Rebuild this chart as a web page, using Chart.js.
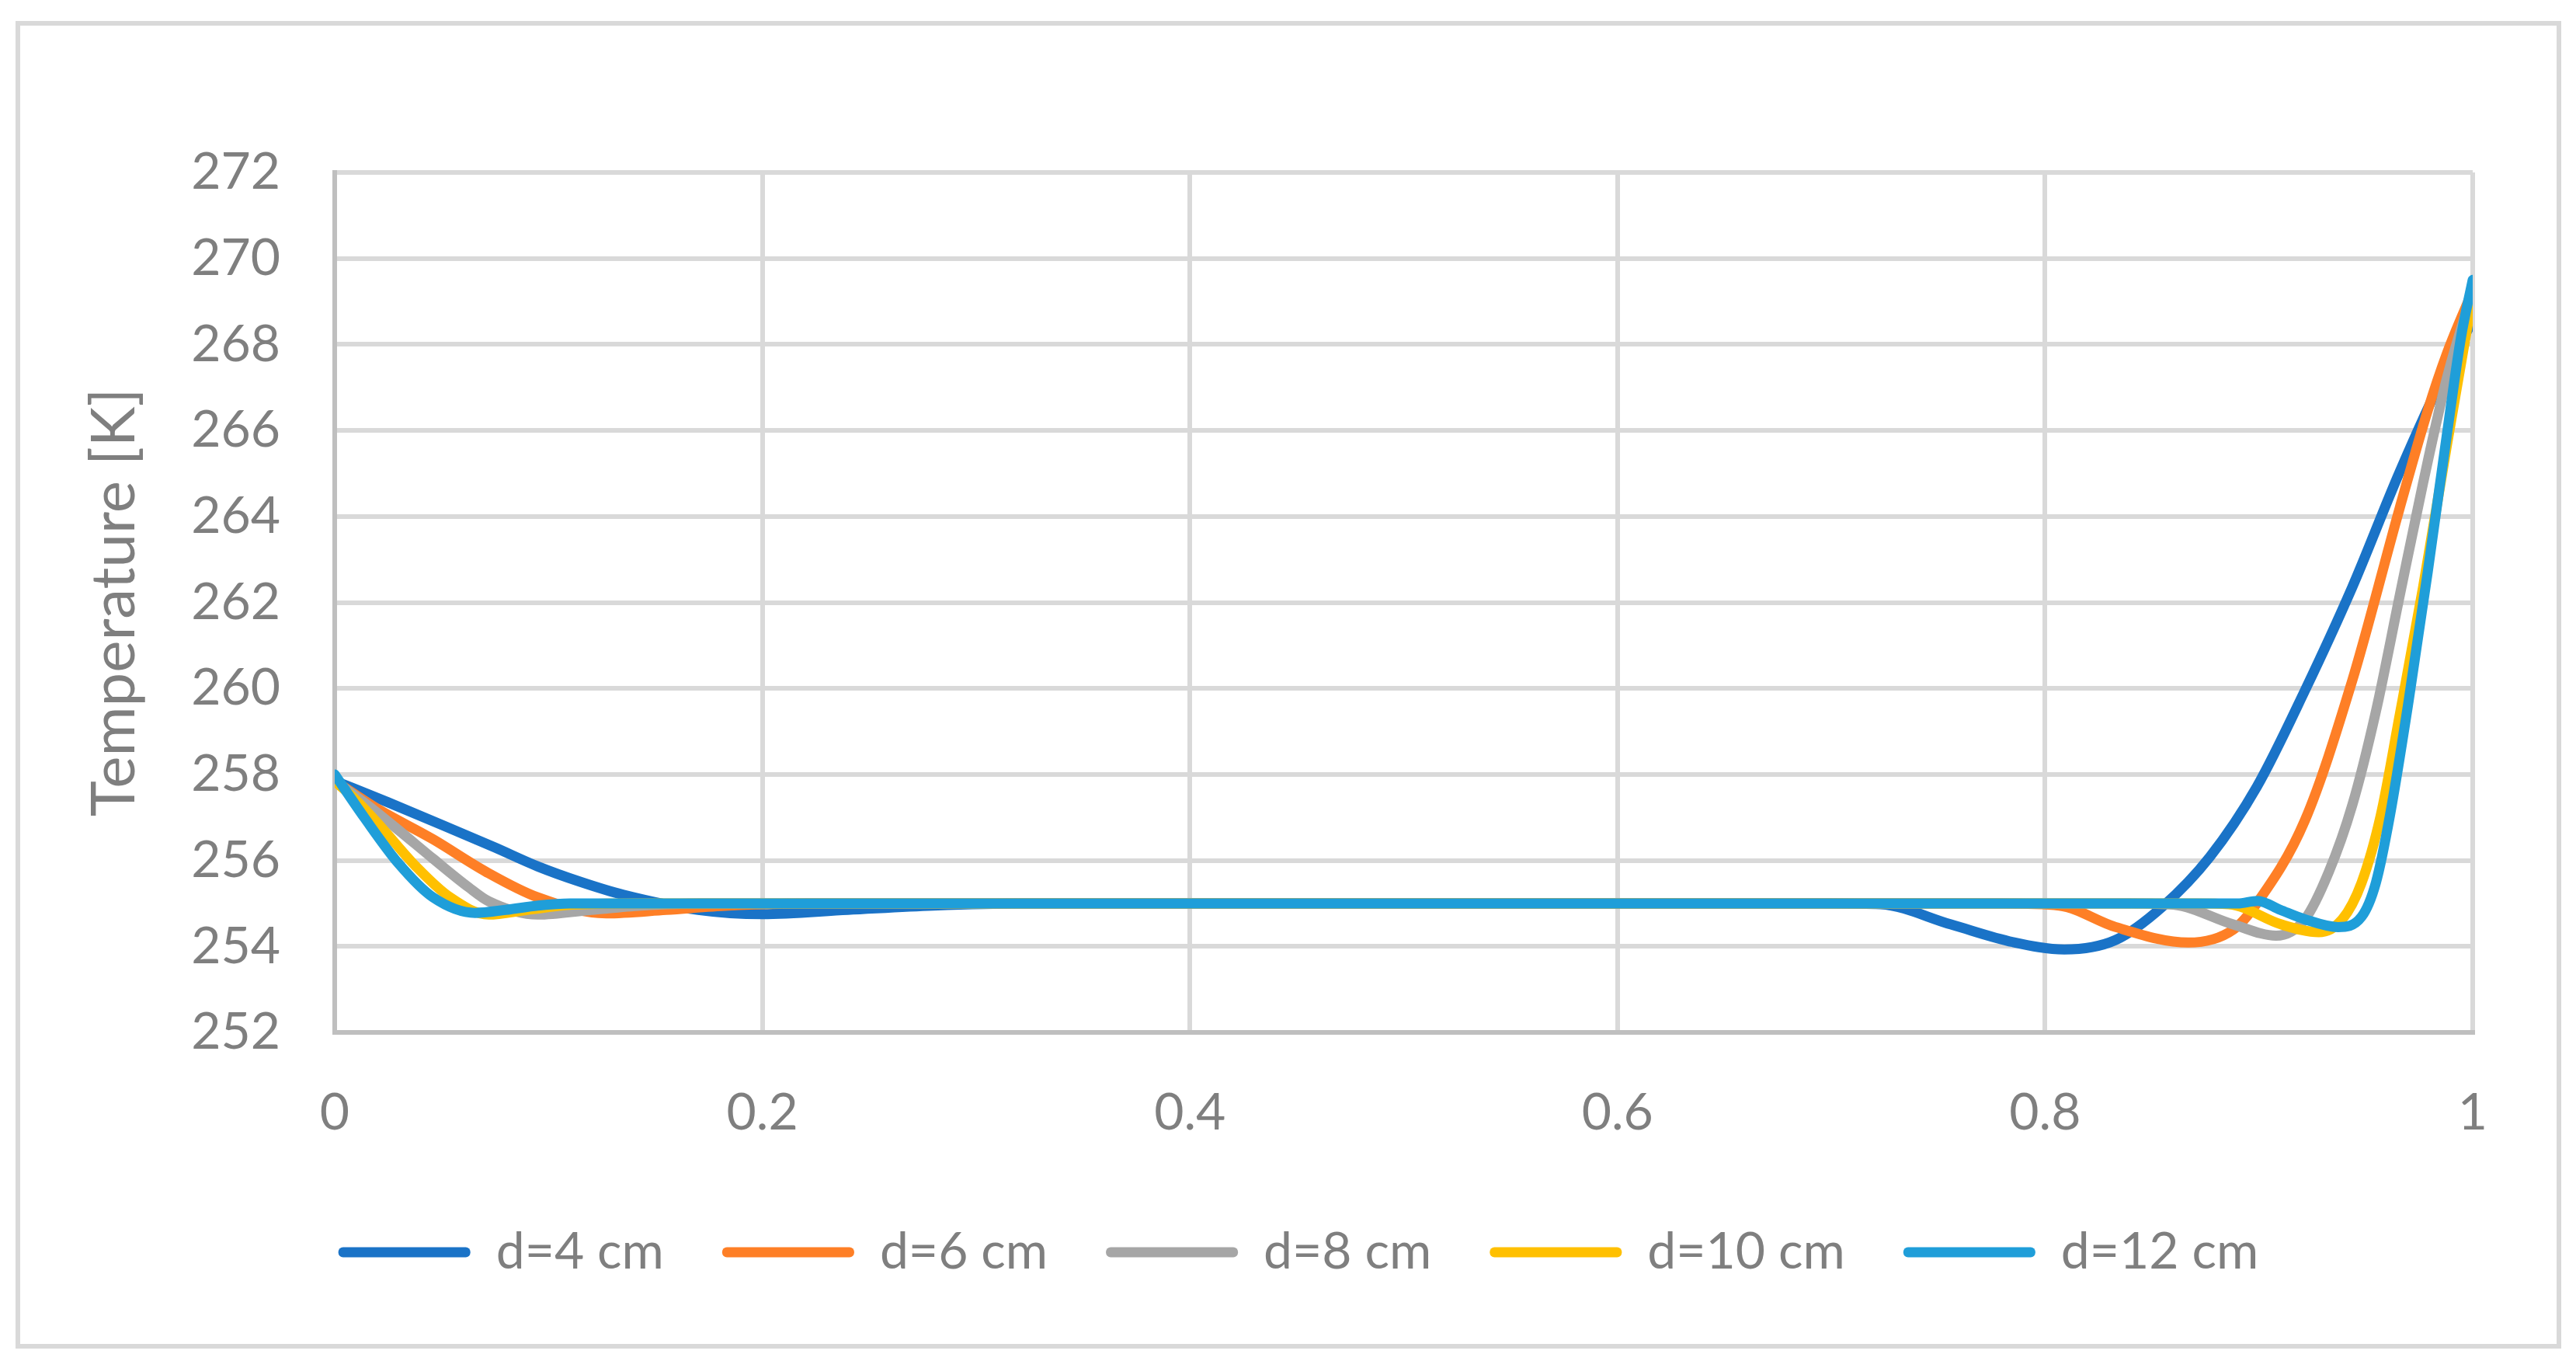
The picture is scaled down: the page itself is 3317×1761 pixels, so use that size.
<!DOCTYPE html>
<html>
<head>
<meta charset="utf-8">
<script src="https://cdn.jsdelivr.net/npm/chart.js@4.4.0/dist/chart.umd.min.js"></script>
<style>
  html, body { margin: 0; padding: 0; background: #fff; }
  #wrap { position: relative; width: 3317px; height: 1761px; }
  #frame { position: absolute; left: 20px; top: 27px; width: 3266px; height: 1697px; border: 6px solid #d9d9d9; }
  #chart { position: absolute; left: 0; top: 0; }
</style>
</head>
<body>
<div id="wrap">
  <div id="frame"></div>
  <canvas id="chart" width="3317" height="1761"></canvas>
</div>
<script>
// --- data ---
const seriesNames = ['d=4 cm', 'd=6 cm', 'd=8 cm', 'd=10 cm', 'd=12 cm'];
const seriesColors = ['#1a73c7', '#fe7f26', '#a6a6a6', '#ffc000', '#1f9ed9'];

const xD4 = [0, 0.025, 0.05, 0.075, 0.095, 0.115, 0.135, 0.17, 0.2, 0.24, 0.28, 0.32, 0.7, 0.723, 0.756, 0.785, 0.809, 0.833, 0.855, 0.877, 0.899, 0.9215, 0.9437, 0.9657, 0.9878, 1.0];
const tD4 = [257.85, 257.35, 256.83, 256.3, 255.86, 255.5, 255.2, 254.85, 254.75, 254.85, 254.95, 255, 255, 254.98, 254.51, 254.1, 253.93, 254.15, 254.93, 256.08, 257.71, 259.95, 262.36, 265.02, 267.43, 268.55];

const xD6 = [0, 0.02, 0.046, 0.0706, 0.095, 0.127, 0.155, 0.184, 0.22, 0.78, 0.8066, 0.833, 0.867, 0.888, 0.899, 0.9215, 0.9437, 0.9657, 0.979, 0.988, 1.0];
const tD6 = [257.85, 257.2, 256.49, 255.74, 255.14, 254.77, 254.85, 254.95, 255, 255, 254.95, 254.45, 254.09, 254.39, 255.0, 256.93, 260.19, 264.17, 266.47, 267.8, 269.25];

const xD8 = [0, 0.015, 0.03, 0.046, 0.0625, 0.072, 0.095, 0.12, 0.1435, 0.17, 0.84, 0.86, 0.888, 0.908, 0.9215, 0.9326, 0.9437, 0.9547, 0.9657, 0.9768, 0.9878, 1.0];
const tD8 = [257.85, 257.3, 256.7, 256.04, 255.38, 255.05, 254.74, 254.85, 254.95, 255, 255, 254.97, 254.51, 254.25, 254.63, 255.72, 257.29, 259.46, 262.12, 264.78, 267.19, 269.25];

const xD10 = [0, 0.01, 0.022, 0.038, 0.054, 0.072, 0.09, 0.111, 0.14, 0.87, 0.886, 0.9105, 0.928, 0.939, 0.948, 0.957, 0.9657, 0.9768, 0.9878, 1.0];
const tD10 = [257.85, 257.4, 256.76, 255.86, 255.14, 254.74, 254.85, 254.97, 255, 255, 254.98, 254.51, 254.33, 254.63, 255.48, 257.05, 259.34, 262.36, 265.62, 269.13];

const xD12 = [0, 0.0138, 0.03, 0.046, 0.0657, 0.08, 0.095, 0.11, 0.89, 0.8994, 0.91, 0.9215, 0.937, 0.948, 0.9547, 0.9613, 0.97, 0.979, 0.9878, 0.9945, 1.0];
const tD12 = [258.0, 257.0, 255.92, 255.14, 254.78, 254.85, 254.95, 255, 255, 255.06, 254.85, 254.63, 254.45, 254.69, 255.48, 257.05, 259.7, 262.72, 265.86, 268.16, 269.5];

const xTicks = [0, 0.2, 0.4, 0.6, 0.8, 1];
const xTickLabels = ['0', '0.2', '0.4', '0.6', '0.8', '1'];
const yTicks = [252, 254, 256, 258, 260, 262, 264, 266, 268, 270, 272];
const yTickLabels = ['252', '254', '256', '258', '260', '262', '264', '266', '268', '270', '272'];

const xSeries = [xD4, xD6, xD8, xD10, xD12];
const tSeries = [tD4, tD6, tD8, tD10, tD12];

// --- chart ---
const textGray = '#7f7f7f';
const gridGray = '#d9d9d9';
const axisGray = '#bfbfbf';
const fontFamily = 'Lato, Carlito, Calibri, sans-serif';

const datasets = seriesNames.map((name, i) => ({
    label: name,
    data: xSeries[i].map((x, j) => ({ x: x, y: tSeries[i][j] })),
    borderColor: seriesColors[i],
    backgroundColor: seriesColors[i],
    borderWidth: 13,
    borderCapStyle: 'round',
    borderJoinStyle: 'round',
    pointRadius: 0,
    cubicInterpolationMode: 'monotone',
    fill: false,
    order: seriesNames.length - i   // later series painted on top
}));

new Chart(document.getElementById('chart'), {
    type: 'line',
    data: { datasets: datasets },
    options: {
        responsive: false,
        animation: false,
        events: [],
        layout: { padding: { left: 27, right: 0, top: 222, bottom: 106 } },
        plugins: {
            tooltip: { enabled: false },
            legend: {
                position: 'bottom',
                labels: {
                    color: textGray,
                    font: { family: fontFamily, size: 66 },
                    boxWidth: 170,
                    boxHeight: 13,
                    padding: 75,
                    useBorderRadius: true,
                    borderRadius: 6,
                    generateLabels: chart => chart.data.datasets.map((ds, i) => ({
                        text: ds.label,
                        fillStyle: ds.borderColor,
                        strokeStyle: ds.borderColor,
                        lineWidth: 0,
                        fontColor: textGray,
                        borderRadius: 6,
                        datasetIndex: i
                    }))
                }
            }
        },
        scales: {
            x: {
                type: 'linear',
                min: 0,
                max: 1,
                afterBuildTicks: s => { s.ticks = xTicks.map(v => ({ value: v })); },
                afterFit: s => { s.height = 175; },
                ticks: {
                    color: textGray,
                    font: { family: fontFamily, size: 66 },
                    padding: 64,
                    maxRotation: 0,
                    callback: (v, i) => xTickLabels[i]
                },
                grid: {
                    color: c => (c.tick && c.tick.value === 0) ? 'rgba(0,0,0,0)' : gridGray,
                    lineWidth: 6,
                    drawTicks: false
                },
                border: { display: true, color: axisGray, width: 6 }
            },
            y: {
                min: 252,
                max: 272,
                afterBuildTicks: s => { s.ticks = yTicks.map(v => ({ value: v })); },
                afterFit: s => { s.width = 404; },
                ticks: {
                    color: textGray,
                    font: { family: fontFamily, size: 66 },
                    padding: 70,
                    callback: (v, i) => yTickLabels[i]
                },
                grid: {
                    color: c => (c.tick && c.tick.value === 252) ? 'rgba(0,0,0,0)' : gridGray,
                    lineWidth: 6,
                    drawTicks: false
                },
                border: { display: true, color: axisGray, width: 6 },
                title: {
                    display: true,
                    text: 'Temperature [K]',
                    color: textGray,
                    font: { family: fontFamily, size: 78, weight: 'normal' },
                    padding: { top: 74, bottom: 0 }
                }
            },
            // empty right-hand box, only reserves the space right of the plot
            yRight: {
                position: 'right',
                display: true,
                afterFit: s => { s.width = 133; },
                ticks: { display: false },
                grid: { display: false },
                border: { display: false }
            }
        }
    }
});
</script>
</body>
</html>
